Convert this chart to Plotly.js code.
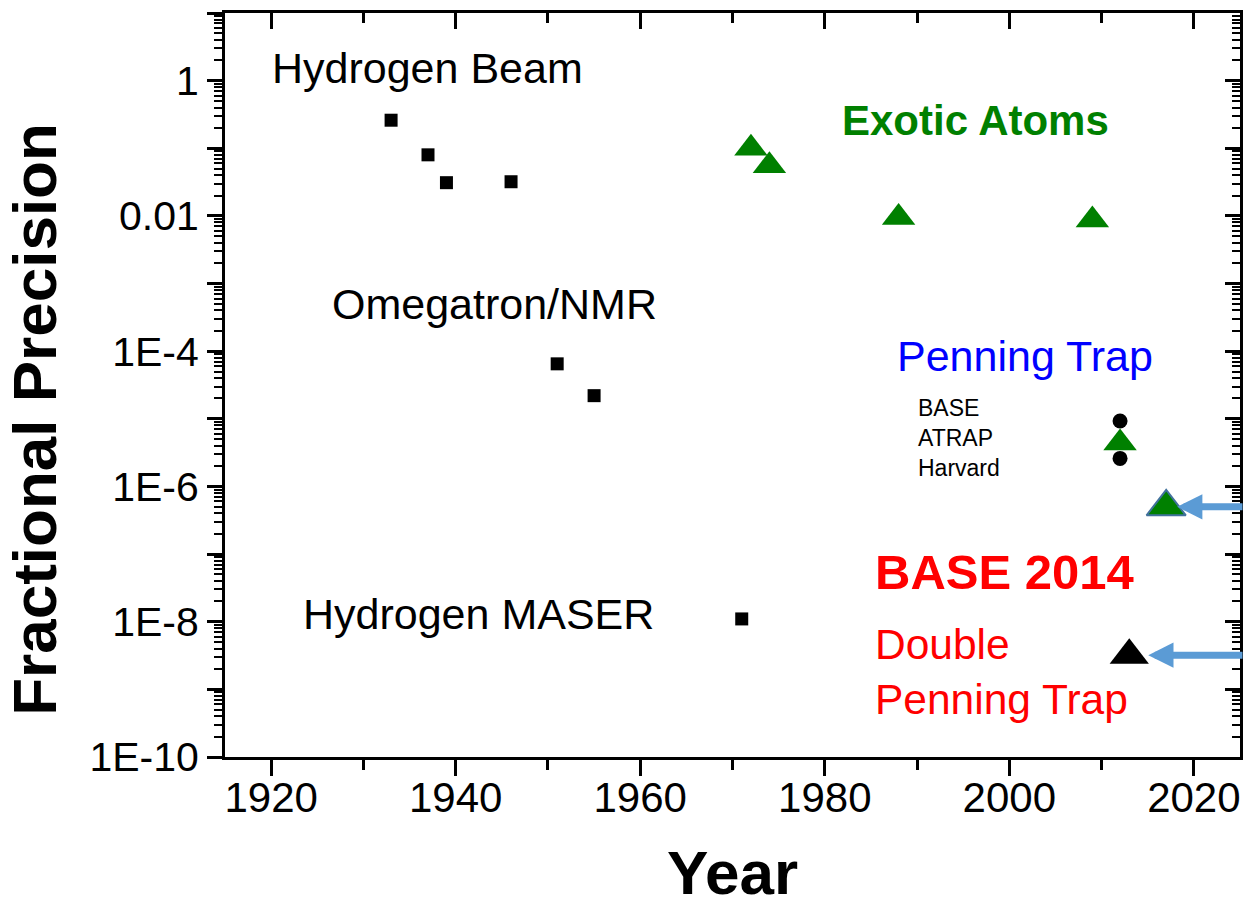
<!DOCTYPE html>
<html><head><meta charset="utf-8">
<script src="https://cdn.plot.ly/plotly-3.0.1.min.js"></script>
<style>html,body{margin:0;padding:0;background:#fff;}</style>
</head><body><div id="chart" style="width:1244px;height:907px;"></div>
<script>
// ---- data ----
const beamYears = [1933, 1937, 1939, 1946];
const beamPrecision = [0.26, 0.08, 0.031, 0.032];
const omegatronYears = [1951, 1955];
const omegatronPrecision = [6.5e-5, 2.2e-5];
const maserYears = [1971];
const maserPrecision = [1.1e-8];
const exoticYears = [1972, 1974, 1988, 2009];
const exoticPrecision = [0.1, 0.055, 0.0095, 0.0087];
const penningYears = [2012, 2012];
const penningPrecision = [9.3e-6, 2.6e-6];
const atrapYears = [2012];
const atrapPrecision = [4.4e-6];
const recentYears = [2017];
const recentPrecision = [5.0e-7];
const base2014Years = [2013];
const base2014Precision = [3.2e-9];

const xTickVals = [1920, 1940, 1960, 1980, 2000, 2020];
const yTickVals = [1e-10, 1e-9, 1e-8, 1e-7, 1e-6, 1e-5, 1e-4, 1e-3, 1e-2, 1e-1, 1, 10];
const yTickText = ['1E-10', '', '1E-8', '', '1E-6', '', '1E-4', '', '0.01', '', '1', ''];

// minor log ticks 2..9 in each decade
const yMinor = [];
for (let e = -10; e <= 0; e++) for (let k = 2; k <= 9; k++) yMinor.push(k * Math.pow(10, e));

const FONT = 'Liberation Sans, Arial, Helvetica, sans-serif';
const W = 1244, H = 907, ML = 225, MR = 4, MT = 13, MB = 150;
const PW = W - ML - MR, PH = H - MT - MB;
const px = x => (x - ML) / PW;
const py = y => (H - MB - y) / PH;

const traces = [
  {x: beamYears, y: beamPrecision, mode: 'markers', type: 'scatter',
   marker: {symbol: 'square', size: 13, color: '#000'}},
  {x: omegatronYears, y: omegatronPrecision, mode: 'markers', type: 'scatter',
   marker: {symbol: 'square', size: 13, color: '#000'}},
  {x: maserYears, y: maserPrecision, mode: 'markers', type: 'scatter',
   marker: {symbol: 'square', size: 13, color: '#000'}},
  {x: exoticYears, y: exoticPrecision, mode: 'markers', type: 'scatter',
   marker: {symbol: 'triangle-up', size: 29, color: '#008000', line: {width: 0}}},
  {x: penningYears, y: penningPrecision, mode: 'markers', type: 'scatter',
   marker: {symbol: 'circle', size: 15, color: '#000'}},
  {x: atrapYears, y: atrapPrecision, mode: 'markers', type: 'scatter',
   marker: {symbol: 'triangle-up', size: 29, color: '#008000', line: {width: 0}}},
  {x: recentYears, y: recentPrecision, mode: 'markers', type: 'scatter',
   marker: {symbol: 'triangle-up', size: 34, color: '#008000', line: {width: 2, color: '#41719C'}}},
  {x: base2014Years, y: base2014Precision, mode: 'markers', type: 'scatter',
   marker: {symbol: 'triangle-up', size: 34, color: '#000', line: {width: 0}}},
  {x: [], y: [], xaxis: 'x2', yaxis: 'y2', mode: 'markers', type: 'scatter', hoverinfo: 'skip'}
];

function txt(text, left, cy, size, color, bold, align) {
  return {text: bold ? '<b>' + text + '</b>' : text, xref: 'paper', yref: 'paper',
    x: px(left), y: py(cy), xanchor: 'left', yanchor: 'middle', showarrow: false,
    align: align || 'left', font: {family: FONT, size: size, color: color}};
}

const annotations = [
  txt('Hydrogen Beam', 270, 68, 43, '#000'),
  txt('Omegatron/NMR', 330, 304, 43, '#000'),
  txt('Hydrogen MASER', 301, 614, 43, '#000'),
  txt('Exotic Atoms', 840, 121, 42, '#008000', true),
  txt('Penning Trap', 895, 356, 43, '#0000FF'),
  txt('BASE<br>ATRAP<br>Harvard', 916, 438, 23, '#000'),
  txt('BASE 2014', 873, 572, 49, '#FF0000', true),
  txt('Double<br>Penning Trap', 873, 672, 42.5, '#FF0000'),
  {x: recentYears[0], y: Math.log10(recentPrecision[0]), xref: 'x', yref: 'y',
   text: '', showarrow: true, ax: 90, ay: 0, arrowhead: 2, arrowwidth: 7, arrowsize: 0.72,
   arrowcolor: '#5B9BD5', standoff: 11},
  {x: base2014Years[0], y: Math.log10(base2014Precision[0]), xref: 'x', yref: 'y',
   text: '', showarrow: true, ax: 125, ay: 0, arrowhead: 2, arrowwidth: 7, arrowsize: 0.72,
   arrowcolor: '#5B9BD5', standoff: 19}
];

const axisCommon = {showgrid: false, zeroline: false, showline: true, linecolor: '#000', linewidth: 3,
  tickcolor: '#000', tickwidth: 3, ticklen: 16};

const layout = {
  width: W, height: H, showlegend: false,
  margin: {l: ML, r: MR, t: MT, b: MB, pad: 0},
  paper_bgcolor: '#fff', plot_bgcolor: '#fff',
  font: {family: FONT, color: '#000'},
  xaxis: Object.assign({}, axisCommon, {
    range: [1915, 2025], tickmode: 'array', tickvals: xTickVals, ticks: 'outside',
    ticklabelstandoff: -14,
    tickfont: {family: FONT, size: 42, color: '#000'},
    minor: {dtick: 10, tick0: 1920, ticks: 'outside', ticklen: 10, tickwidth: 3, tickcolor: '#000'},
    title: {text: '<b>Year</b>', font: {family: FONT, size: 62, color: '#000'}, standoff: 35}
  }),
  yaxis: Object.assign({}, axisCommon, {
    type: 'log', range: [-10, 1], tickmode: 'array', tickvals: yTickVals, ticktext: yTickText,
    ticks: 'outside', ticklen: 15,
    tickfont: {family: FONT, size: 41, color: '#000'},
    minor: {tickmode: 'array', tickvals: yMinor, ticks: 'outside', ticklen: 8, tickwidth: 2, tickcolor: '#000'},
    title: {text: '<b>Fractional Precision&nbsp;&nbsp;&nbsp;&nbsp;</b>', font: {family: FONT, size: 62, color: '#000'}, standoff: 26}
  }),
  xaxis2: Object.assign({}, axisCommon, {
    overlaying: 'x', side: 'top', anchor: 'y2', range: [1915, 2025], tickmode: 'array', tickvals: xTickVals,
    ticks: 'inside', showticklabels: false,
    minor: {dtick: 10, tick0: 1920, ticks: 'inside', ticklen: 10, tickwidth: 3, tickcolor: '#000'}
  }),
  yaxis2: Object.assign({}, axisCommon, {
    overlaying: 'y', side: 'right', anchor: 'x2', type: 'log', range: [-10, 1], tickmode: 'array',
    tickvals: yTickVals, ticks: 'inside', ticklen: 15, showticklabels: false,
    minor: {tickmode: 'array', tickvals: yMinor, ticks: 'inside', ticklen: 8, tickwidth: 2, tickcolor: '#000'}
  }),
  annotations: annotations
};

Plotly.newPlot('chart', traces, layout, {displayModeBar: false, staticPlot: true});
</script></body></html>
